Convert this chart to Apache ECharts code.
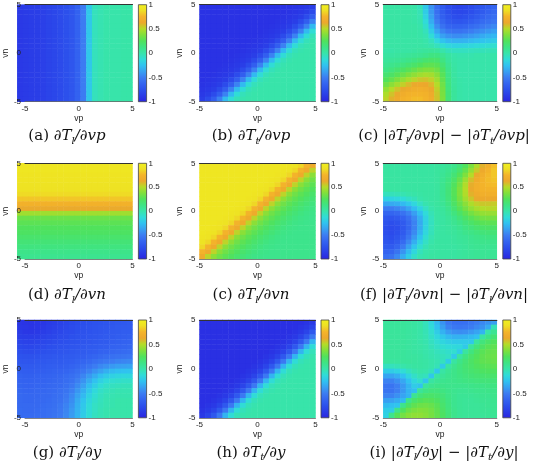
<!DOCTYPE html>
<html><head><meta charset="utf-8">
<script src="https://cdn.jsdelivr.net/npm/echarts@6/dist/echarts.min.js"></script>
<style>html,body{margin:0;padding:0;background:#fff}#c{width:535px;height:463px}</style>
</head><body><div id="c"></div>
<script>
// cell centres (vp horizontally, vn vertically)
const vpCats = [-4.75,-4.25,-3.75,-3.25,-2.75,-2.25,-1.75,-1.25,-0.75,-0.25,0.25,0.75,1.25,1.75,2.25,2.75,3.25,3.75,4.25,4.75];
const vnCats = [-4.75,-4.25,-3.75,-3.25,-2.75,-2.25,-1.75,-1.25,-0.75,-0.25,0.25,0.75,1.25,1.75,2.25,2.75,3.25,3.75,4.25,4.75];
const axisTicks = [-5, 0, 5];
const barTicks = [-1, -0.5, 0, 0.5, 1];
const CMAP = ['#2a24e0','#2a3ae6','#2c50ec','#3464f0','#3c7cf2','#38a0f2','#30c2f0','#30dcd8','#38e4aa','#3ee484','#50e25c','#80e03c','#b4dc28','#eca82c','#f4b42a','#eee024','#f0f01e'];

// values in hundredths; rows listed from vn = 4.75 (top) down to vn = -4.75 (bottom)
const dTl_dvp = [
[-88,-87,-86,-85,-84,-82,-80,-78,-75,-71,-64,-50,-22,-5,-2,0,0,0,1,1],
[-88,-87,-86,-85,-84,-82,-80,-78,-75,-71,-64,-50,-22,-5,-2,0,0,0,1,1],
[-88,-87,-86,-85,-84,-82,-80,-78,-75,-71,-64,-50,-22,-5,-2,0,0,0,1,1],
[-88,-87,-86,-85,-84,-82,-80,-78,-75,-71,-64,-50,-22,-5,-2,0,0,0,1,1],
[-88,-87,-86,-85,-84,-82,-80,-78,-75,-71,-64,-50,-22,-5,-2,0,0,0,1,1],
[-88,-87,-86,-85,-84,-82,-80,-78,-75,-71,-64,-50,-22,-5,-2,0,0,0,1,1],
[-88,-87,-86,-85,-84,-82,-80,-78,-75,-71,-64,-50,-22,-5,-2,0,0,0,1,1],
[-88,-87,-86,-85,-84,-82,-80,-78,-75,-71,-64,-50,-22,-5,-2,0,0,0,1,1],
[-88,-87,-86,-85,-84,-82,-80,-78,-75,-71,-64,-50,-22,-5,-2,0,0,0,1,1],
[-88,-87,-86,-85,-84,-82,-80,-78,-75,-71,-64,-50,-22,-5,-2,0,0,0,1,1],
[-88,-87,-86,-85,-84,-82,-80,-78,-75,-71,-64,-50,-22,-5,-2,0,0,0,1,1],
[-88,-87,-86,-85,-84,-82,-80,-78,-75,-71,-64,-50,-22,-5,-2,0,0,0,1,1],
[-88,-87,-86,-85,-84,-82,-80,-78,-75,-71,-64,-50,-22,-5,-2,0,0,0,1,1],
[-88,-87,-86,-85,-84,-82,-80,-78,-75,-71,-64,-50,-22,-5,-2,0,0,0,1,1],
[-88,-87,-86,-85,-84,-82,-80,-78,-75,-71,-64,-50,-22,-5,-2,0,0,0,1,1],
[-88,-87,-86,-85,-84,-82,-80,-78,-75,-71,-64,-50,-22,-5,-2,0,0,0,1,1],
[-88,-87,-86,-85,-84,-82,-80,-78,-75,-71,-64,-50,-22,-5,-2,0,0,0,1,1],
[-88,-87,-86,-85,-84,-82,-80,-78,-75,-71,-64,-50,-22,-5,-2,0,0,0,1,1],
[-88,-87,-86,-85,-84,-82,-80,-78,-75,-71,-64,-50,-22,-5,-2,0,0,0,1,1],
[-88,-87,-86,-85,-84,-82,-80,-78,-75,-71,-64,-50,-22,-5,-2,0,0,0,1,1]];

const dTt_dvp = [
[-92,-92,-92,-92,-92,-92,-92,-92,-92,-92,-92,-92,-92,-92,-92,-92,-91,-90,-88,-85],
[-92,-92,-92,-92,-92,-92,-92,-92,-92,-92,-92,-92,-92,-92,-92,-91,-90,-88,-85,-78],
[-92,-92,-92,-92,-92,-92,-92,-92,-92,-92,-92,-92,-92,-92,-91,-90,-88,-85,-78,-66],
[-92,-92,-92,-92,-92,-92,-92,-92,-92,-92,-92,-92,-92,-91,-90,-88,-85,-78,-66,-48],
[-92,-92,-92,-92,-92,-92,-92,-92,-92,-92,-92,-92,-91,-90,-88,-85,-78,-66,-48,-28],
[-92,-92,-92,-92,-92,-92,-92,-92,-92,-92,-92,-91,-90,-88,-85,-78,-66,-48,-28,-12],
[-92,-92,-92,-92,-92,-92,-92,-92,-92,-92,-91,-90,-88,-85,-78,-66,-48,-28,-12,-4],
[-92,-92,-92,-92,-92,-92,-92,-92,-92,-91,-90,-88,-85,-78,-66,-48,-28,-12,-4,-1],
[-92,-92,-92,-92,-92,-92,-92,-92,-91,-90,-88,-85,-78,-66,-48,-28,-12,-4,-1,0],
[-92,-92,-92,-92,-92,-92,-92,-91,-90,-88,-85,-78,-66,-48,-28,-12,-4,-1,0,0],
[-92,-92,-92,-92,-92,-92,-91,-90,-88,-85,-78,-66,-48,-28,-12,-4,-1,0,0,0],
[-92,-92,-92,-92,-92,-91,-90,-88,-85,-78,-66,-48,-28,-12,-4,-1,0,0,0,0],
[-92,-92,-92,-92,-91,-90,-88,-85,-78,-66,-48,-28,-12,-4,-1,0,0,0,0,0],
[-92,-92,-92,-91,-90,-88,-85,-78,-66,-48,-28,-12,-4,-1,0,0,0,0,0,0],
[-92,-92,-91,-90,-88,-85,-78,-66,-48,-28,-12,-4,-1,0,0,0,0,0,0,0],
[-92,-91,-90,-88,-85,-78,-66,-48,-28,-12,-4,-1,0,0,0,0,0,0,0,0],
[-91,-90,-88,-85,-78,-66,-48,-28,-12,-4,-1,0,0,0,0,0,0,0,0,0],
[-90,-88,-85,-78,-66,-48,-28,-12,-4,-1,0,0,0,0,0,0,0,0,0,0],
[-88,-85,-78,-66,-48,-28,-12,-4,-1,0,0,0,0,0,0,0,0,0,0,0],
[-85,-78,-66,-48,-28,-12,-4,-1,0,0,0,0,0,0,0,0,0,0,0,0]];

const diff_vp = [
[2,2,2,2,2,1,-4,-22,-42,-58,-68,-76,-80,-82,-80,-78,-74,-70,-66,-62],
[2,2,2,2,2,1,-3,-20,-40,-57,-67,-75,-79,-80,-79,-76,-72,-68,-64,-60],
[2,2,2,2,2,1,-2,-17,-37,-54,-65,-72,-76,-77,-75,-72,-68,-64,-60,-57],
[2,2,2,2,2,1,-1,-13,-33,-50,-61,-68,-71,-72,-70,-67,-63,-59,-56,-53],
[2,2,2,2,2,2,0,-9,-27,-44,-55,-62,-64,-64,-62,-59,-56,-52,-49,-46],
[2,2,2,2,2,2,1,-5,-20,-36,-47,-53,-55,-55,-53,-50,-47,-44,-41,-38],
[2,2,2,2,2,2,1,-2,-12,-26,-37,-42,-44,-44,-42,-40,-37,-34,-31,-29],
[2,2,2,2,2,2,2,0,-5,-14,-24,-29,-31,-31,-30,-28,-26,-24,-22,-20],
[2,2,2,2,2,2,2,1,-1,-5,-11,-15,-17,-17,-16,-15,-13,-12,-11,-10],
[1,1,2,2,2,3,4,5,6,5,0,-4,-6,-6,-6,-5,-4,-4,-3,-3],
[3,3,4,5,6,7,8,10,13,13,8,3,0,-1,-1,-1,0,0,0,0],
[5,6,7,9,11,13,16,19,21,20,13,5,1,0,0,0,0,0,0,0],
[8,10,12,15,18,21,25,28,29,27,18,8,2,0,0,0,0,0,0,0],
[12,15,19,23,27,31,35,37,37,33,23,10,3,0,0,0,0,0,0,0],
[18,22,27,32,37,41,45,47,46,40,27,12,3,0,0,0,0,0,0,0],
[25,30,36,42,47,52,55,56,53,45,30,13,4,1,0,0,0,0,0,0],
[33,40,46,53,58,62,64,63,59,50,33,14,4,1,0,0,0,0,0,0],
[42,50,56,62,66,69,70,68,63,53,35,15,5,1,0,0,0,0,0,0],
[48,56,62,68,72,74,74,72,66,55,36,16,5,1,0,0,0,0,0,0],
[52,60,66,72,75,77,77,74,68,56,37,16,5,1,0,0,0,0,0,0]];

const dTl_dvn = [
[92,92,92,92,92,92,92,92,92,92,92,92,92,92,92,92,92,92,92,92],
[92,92,92,92,92,92,92,92,92,92,92,92,92,92,92,92,92,92,92,92],
[91,91,91,91,91,91,91,91,91,91,91,91,91,91,91,91,91,91,91,91],
[91,91,91,91,91,91,91,91,91,91,91,91,91,91,91,91,91,91,91,91],
[90,90,90,90,90,90,90,90,90,90,90,90,90,90,90,90,90,90,90,90],
[89,89,89,89,89,89,89,89,89,89,89,89,89,89,89,89,89,89,89,89],
[86,86,86,86,86,86,86,86,86,86,86,86,86,86,86,86,86,86,86,86],
[80,80,80,80,80,80,80,80,80,80,80,80,80,80,80,80,80,80,80,80],
[72,72,72,72,72,72,72,72,72,72,72,72,72,72,72,72,72,72,72,72],
[62,62,62,62,62,62,62,62,62,62,62,62,62,62,62,62,62,62,62,62],
[45,45,45,45,45,45,45,45,45,45,45,45,45,45,45,45,45,45,45,45],
[32,32,32,32,32,32,32,32,32,32,32,32,32,32,32,32,32,32,32,32],
[28,28,28,28,28,28,28,28,28,28,28,28,28,28,28,28,28,28,28,28],
[25,25,25,25,25,25,25,25,25,25,25,25,25,25,25,25,25,25,25,25],
[23,23,23,23,23,23,23,23,23,23,23,23,23,23,23,23,23,23,23,23],
[20,20,20,20,20,20,20,20,20,20,20,20,20,20,20,20,20,20,20,20],
[17,17,17,17,17,17,17,17,17,17,17,17,17,17,17,17,17,17,17,17],
[14,14,14,14,14,14,14,14,14,14,14,14,14,14,14,14,14,14,14,14],
[11,11,11,11,11,11,11,11,11,11,11,11,11,11,11,11,11,11,11,11],
[9,9,9,9,9,9,9,9,9,9,9,9,9,9,9,9,9,9,9,9]];

const dTt_dvn = [
[92,92,92,92,92,92,92,92,92,92,92,92,92,92,92,91,90,85,74,66],
[92,92,92,92,92,92,92,92,92,92,92,92,92,92,91,90,85,74,66,52],
[92,92,92,92,92,92,92,92,92,92,92,92,92,91,90,85,74,66,52,40],
[92,92,92,92,92,92,92,92,92,92,92,92,91,90,85,74,66,52,40,33],
[92,92,92,92,92,92,92,92,92,92,92,91,90,85,74,66,52,40,33,28],
[92,92,92,92,92,92,92,92,92,92,91,90,85,74,66,52,40,33,28,24],
[92,92,92,92,92,92,92,92,92,91,90,85,74,66,52,40,33,28,24,20],
[92,92,92,92,92,92,92,92,91,90,85,74,66,52,40,33,28,24,20,17],
[92,92,92,92,92,92,92,91,90,85,74,66,52,40,33,28,24,20,17,14],
[92,92,92,92,92,92,91,90,85,74,66,52,40,33,28,24,20,17,14,12],
[92,92,92,92,92,91,90,85,74,66,52,40,33,28,24,20,17,14,12,11],
[92,92,92,92,91,90,85,74,66,52,40,33,28,24,20,17,14,12,11,10],
[92,92,92,91,90,85,74,66,52,40,33,28,24,20,17,14,12,11,10,10],
[92,92,91,90,85,74,66,52,40,33,28,24,20,17,14,12,11,10,10,10],
[92,91,90,85,74,66,52,40,33,28,24,20,17,14,12,11,10,10,10,10],
[91,90,85,74,66,52,40,33,28,24,20,17,14,12,11,10,10,10,10,10],
[90,85,74,66,52,40,33,28,24,20,17,14,12,11,10,10,10,10,10,10],
[85,74,66,52,40,33,28,24,20,17,14,12,11,10,10,10,10,10,10,10],
[74,66,52,40,33,28,24,20,17,14,12,11,10,10,10,10,10,10,10,10],
[66,52,40,33,28,24,20,17,14,12,11,10,10,10,10,10,10,10,10,10]];

const diff_vn = [
[3,3,3,3,3,3,3,3,3,4,5,7,10,16,25,36,48,60,70,78],
[3,3,3,3,3,3,3,3,3,4,6,9,13,20,30,42,54,65,74,80],
[3,3,3,3,3,3,3,3,3,4,7,11,17,26,37,50,62,70,76,80],
[3,3,3,3,3,3,3,3,3,4,8,13,21,31,44,57,67,73,77,79],
[3,3,3,3,3,3,3,3,3,4,9,15,24,35,49,61,70,74,76,77],
[3,3,3,3,3,3,3,3,3,4,9,16,26,37,50,62,70,73,74,74],
[-5,-4,-3,-2,0,1,2,3,3,4,9,16,26,37,49,60,67,70,70,70],
[-18,-17,-15,-12,-8,-4,0,2,3,4,8,15,25,35,46,55,62,64,64,63],
[-35,-34,-32,-28,-22,-15,-7,-1,2,4,7,13,22,31,40,48,53,55,55,54],
[-50,-50,-47,-43,-36,-27,-17,-7,0,3,5,10,18,27,35,42,47,50,51,51],
[-62,-62,-60,-55,-48,-38,-26,-13,-3,2,4,8,14,21,28,34,39,42,43,43],
[-70,-71,-69,-64,-56,-45,-32,-17,-5,2,3,6,10,16,22,27,31,34,35,35],
[-74,-76,-74,-69,-60,-48,-34,-18,-6,1,3,5,8,12,17,21,25,27,28,28],
[-76,-78,-76,-70,-61,-48,-33,-17,-5,1,3,4,6,9,13,16,19,21,22,22],
[-76,-78,-75,-69,-58,-45,-30,-15,-4,2,3,4,5,7,10,12,14,16,17,17],
[-74,-76,-72,-65,-53,-40,-25,-11,-2,2,3,3,4,6,7,9,11,12,13,13],
[-72,-73,-68,-59,-46,-32,-18,-7,0,3,3,3,4,5,6,8,9,10,10,10],
[-68,-68,-62,-51,-37,-23,-11,-3,2,3,3,3,3,4,5,7,8,8,8,8],
[-64,-62,-54,-42,-28,-15,-5,0,2,3,3,3,3,4,5,6,7,7,7,7],
[-58,-55,-46,-33,-20,-8,-2,1,3,3,3,3,3,4,5,6,7,7,7,7]];

const dTl_dy = [
[-90,-91,-91,-90,-89,-87,-85,-83,-81,-79,-77,-76,-75,-74,-73,-72,-71,-70,-70,-69],
[-89,-90,-91,-90,-88,-86,-84,-82,-80,-78,-76,-75,-74,-73,-72,-71,-70,-69,-69,-68],
[-87,-89,-89,-88,-86,-84,-82,-80,-78,-77,-75,-74,-73,-72,-71,-70,-69,-68,-67,-67],
[-85,-86,-86,-85,-83,-81,-80,-78,-77,-75,-74,-73,-72,-71,-70,-69,-68,-67,-66,-65],
[-82,-83,-83,-82,-80,-79,-77,-76,-75,-74,-73,-72,-71,-70,-69,-68,-66,-65,-64,-63],
[-79,-80,-80,-79,-78,-76,-75,-74,-73,-72,-71,-70,-69,-68,-67,-66,-64,-63,-62,-61],
[-76,-77,-77,-76,-75,-74,-73,-72,-71,-70,-69,-68,-67,-66,-64,-63,-61,-60,-59,-58],
[-73,-74,-74,-73,-72,-71,-70,-70,-69,-68,-67,-66,-64,-62,-60,-58,-56,-55,-54,-53],
[-71,-71,-71,-70,-70,-69,-68,-68,-67,-66,-64,-62,-60,-57,-54,-52,-50,-48,-47,-46],
[-68,-69,-69,-68,-68,-67,-66,-66,-65,-63,-61,-58,-54,-50,-46,-43,-40,-38,-37,-36],
[-66,-67,-67,-66,-66,-65,-64,-63,-62,-60,-57,-53,-48,-42,-37,-32,-28,-26,-25,-24],
[-64,-65,-65,-64,-64,-63,-62,-61,-59,-57,-53,-47,-40,-33,-26,-21,-18,-16,-15,-15],
[-63,-64,-64,-63,-63,-62,-61,-60,-58,-55,-49,-42,-33,-25,-18,-13,-10,-9,-8,-8],
[-62,-63,-63,-62,-62,-61,-60,-59,-56,-52,-45,-37,-27,-19,-12,-8,-6,-5,-4,-4],
[-61,-62,-62,-61,-61,-60,-59,-57,-54,-49,-41,-32,-22,-14,-8,-5,-3,-2,-2,-2],
[-60,-61,-61,-61,-60,-60,-58,-56,-52,-46,-37,-28,-18,-11,-6,-3,-2,-1,-1,-1],
[-60,-61,-61,-60,-60,-59,-57,-55,-50,-44,-34,-24,-15,-9,-5,-2,-1,0,0,0],
[-60,-60,-60,-60,-59,-58,-56,-53,-48,-42,-32,-22,-13,-7,-4,-2,-1,0,0,0],
[-59,-60,-60,-59,-58,-57,-55,-52,-47,-40,-31,-21,-12,-7,-3,-1,0,0,0,0],
[-59,-59,-59,-58,-58,-56,-54,-51,-46,-39,-30,-20,-12,-6,-3,-1,0,0,0,0]];

const dTt_dy = [
[-93,-93,-93,-93,-93,-93,-93,-93,-93,-93,-93,-93,-93,-93,-93,-93,-93,-93,-91,-88],
[-93,-93,-93,-93,-93,-93,-93,-93,-93,-93,-93,-93,-93,-93,-93,-93,-93,-91,-88,-82],
[-93,-93,-93,-93,-93,-93,-93,-93,-93,-93,-93,-93,-93,-93,-93,-93,-91,-88,-82,-70],
[-93,-93,-93,-93,-93,-93,-93,-93,-93,-93,-93,-93,-93,-93,-93,-91,-88,-82,-70,-52],
[-93,-93,-93,-93,-93,-93,-93,-93,-93,-93,-93,-93,-93,-93,-91,-88,-82,-70,-52,-30],
[-93,-93,-93,-93,-93,-93,-93,-93,-93,-93,-93,-93,-93,-91,-88,-82,-70,-52,-30,-12],
[-93,-93,-93,-93,-93,-93,-93,-93,-93,-93,-93,-93,-91,-88,-82,-70,-52,-30,-12,-4],
[-93,-93,-93,-93,-93,-93,-93,-93,-93,-93,-93,-91,-88,-82,-70,-52,-30,-12,-4,-1],
[-93,-93,-93,-93,-93,-93,-93,-93,-93,-93,-91,-88,-82,-70,-52,-30,-12,-4,-1,0],
[-93,-93,-93,-93,-93,-93,-93,-93,-93,-91,-88,-82,-70,-52,-30,-12,-4,-1,0,0],
[-93,-93,-93,-93,-93,-93,-93,-93,-91,-88,-82,-70,-52,-30,-12,-4,-1,0,0,0],
[-93,-93,-93,-93,-93,-93,-93,-91,-88,-82,-70,-52,-30,-12,-4,-1,0,0,0,0],
[-93,-93,-93,-93,-93,-93,-91,-88,-82,-70,-52,-30,-12,-4,-1,0,0,0,0,0],
[-93,-93,-93,-93,-93,-91,-88,-82,-70,-52,-30,-12,-4,-1,0,0,0,0,0,0],
[-93,-93,-93,-93,-91,-88,-82,-70,-52,-30,-12,-4,-1,0,0,0,0,0,0,0],
[-93,-93,-93,-91,-88,-82,-70,-52,-30,-12,-4,-1,0,0,0,0,0,0,0,0],
[-93,-93,-91,-88,-82,-70,-52,-30,-12,-4,-1,0,0,0,0,0,0,0,0,0],
[-93,-91,-88,-82,-70,-52,-30,-12,-4,-1,0,0,0,0,0,0,0,0,0,0],
[-91,-88,-82,-70,-52,-30,-12,-4,-1,0,0,0,0,0,0,0,0,0,0,0],
[-88,-82,-70,-52,-30,-12,-4,-1,0,0,0,0,0,0,0,0,0,0,0,0]];

const diff_y = [
[5,5,5,5,4,3,1,-5,-15,-28,-42,-52,-56,-57,-56,-53,-50,-46,-42,-38],
[5,5,5,5,4,3,1,-4,-13,-25,-38,-48,-52,-53,-52,-50,-46,-42,-34,-4],
[5,5,5,5,4,3,1,-3,-10,-20,-31,-39,-43,-44,-43,-40,-36,-30,0,8],
[5,5,5,5,4,3,1,-2,-8,-15,-22,-28,-31,-31,-30,-28,-25,2,12,17],
[5,5,5,5,4,3,1,-1,-6,-11,-16,-19,-21,-21,-21,-22,4,15,21,25],
[5,5,5,5,4,3,2,0,-4,-8,-11,-13,-14,-15,-21,4,15,22,27,29],
[5,5,5,5,4,3,2,0,-2,-5,-7,-9,-10,-20,4,14,22,27,30,31],
[5,5,5,5,4,4,3,1,-1,-3,-5,-7,-20,3,13,20,25,29,31,32],
[4,4,4,5,5,4,3,2,0,-2,-5,-20,3,11,17,22,26,29,30,31],
[-6,-5,-3,0,2,3,3,2,0,-3,-20,2,9,14,18,21,24,26,27,28],
[-20,-20,-17,-12,-6,-1,1,0,-4,-22,2,7,11,14,17,19,21,23,24,24],
[-36,-36,-32,-25,-16,-8,-3,-5,-22,2,6,9,11,13,15,17,18,19,20,20],
[-48,-48,-43,-35,-25,-15,-9,-23,3,7,9,10,11,12,13,14,15,16,16,16],
[-54,-54,-49,-40,-30,-20,-24,4,9,11,11,10,10,10,10,11,12,12,13,13],
[-54,-54,-49,-40,-30,-26,6,12,15,15,13,11,9,8,8,9,10,10,11,11],
[-48,-48,-43,-36,-30,8,16,20,21,19,16,12,9,7,7,7,8,9,9,10],
[-38,-37,-33,-28,10,20,25,27,26,23,18,13,9,7,6,6,7,8,8,9],
[-28,-26,-24,10,22,29,32,33,31,27,20,14,9,7,6,6,6,7,8,8],
[-20,-20,10,24,32,36,38,37,34,29,22,15,10,7,6,6,6,7,7,8],
[-18,10,26,34,39,41,41,39,35,30,23,16,10,7,6,6,6,6,7,7]];

const panels = [dTl_dvp, dTt_dvp, diff_vp, dTl_dvn, dTt_dvn, diff_vn, dTl_dy, dTt_dy, diff_y];
const captions = [
 '{n|(a) }{i|∂T}{s|l}{i|/∂vp}',
 '{n|(b) }{i|∂T}{s|t}{i|/∂vp}',
 '{n|(c) |}{i|∂T}{s|l}{i|/∂vp}{n|| − |}{i|∂T}{s|t}{i|/∂vp}{n||}',
 '{n|(d) }{i|∂T}{s|l}{i|/∂vn}',
 '{n|(c) }{i|∂T}{s|l}{i|/∂vn}',
 '{n|(f) |}{i|∂T}{s|l}{i|/∂vn}{n|| − |}{i|∂T}{s|l}{i|/∂vn}{n||}',
 '{n|(g) }{i|∂T}{s|l}{i|/∂y}',
 '{n|(h) }{i|∂T}{s|t}{i|/∂y}',
 '{n|(i) |}{i|∂T}{s|l}{i|/∂y}{n|| − |}{i|∂T}{s|t}{i|/∂y}{n||}'
];

// layout
const COLS = [{l:17.3,w:115.2,cb:138.4,cbw:8.2,cx:67},{l:199.5,w:116,cb:321,cbw:8,cx:251},{l:383.3,w:113.5,cb:502.8,cbw:8,cx:444}];
const ROWS = [{t:4.7,h:97,cy:136.5},{t:163.3,h:95.7,cy:295.5},{t:320,h:97.8,cy:453}];
const SANS = 'Liberation Sans';
const SERIF = 'DejaVu Serif';

const chart = echarts.init(document.getElementById('c'), null, {renderer:'canvas'});
const grid=[], xAxis=[], yAxis=[], series=[], graphic=[];
const N = panels.length;
const tickFmt = v => String(v);

panels.forEach((p, k) => {
  const C = COLS[k % 3], R = ROWS[Math.floor(k / 3)];
  grid[k] = {left:C.l, top:R.t, width:C.w, height:R.h, containLabel:false};
  grid[N + k] = {left:C.l, top:R.t, width:C.w, height:R.h, containLabel:false};
  grid[2*N + k] = {left:C.cb, top:R.t, width:C.cbw, height:R.h, containLabel:false};

  xAxis[k] = {type:'category', gridIndex:k, data:vpCats, show:false};
  yAxis[k] = {type:'category', gridIndex:k, data:vnCats, show:false};

  xAxis[N + k] = {type:'value', gridIndex:N + k, min:axisTicks[0], max:axisTicks[2], interval:axisTicks[2]-axisTicks[1], position:'bottom', z:5,
    name:'vp', nameLocation:'middle', nameGap:12, nameTextStyle:{fontFamily:SANS, fontSize:8.5, color:'#222'},
    axisLine:{show:true, onZero:false, lineStyle:{color:'#666', width:0.8}}, axisTick:{show:false}, splitLine:{show:false},
    axisLabel:{fontFamily:SANS, fontSize:8, color:'#222', margin:3, formatter:tickFmt}};
  xAxis[2*N + k] = {type:'value', gridIndex:N + k, min:-5, max:5, position:'top', z:5,
    axisLine:{show:true, onZero:false, lineStyle:{color:'#333', width:1.2}}, axisTick:{show:false}, axisLabel:{show:false}, splitLine:{show:false}};
  yAxis[N + k] = {type:'value', gridIndex:N + k, min:axisTicks[0], max:axisTicks[2], interval:axisTicks[2]-axisTicks[1], position:'left', z:5,
    name:'vn', nameLocation:'middle', nameGap:10.5, nameTextStyle:{fontFamily:SANS, fontSize:8.5, color:'#222'},
    axisLine:{show:false, onZero:false}, axisTick:{show:false}, splitLine:{show:false},
    axisLabel:{fontFamily:SANS, fontSize:8, color:'#222', margin:4, formatter:tickFmt}};

  xAxis[3*N + k] = {type:'value', gridIndex:2*N + k, min:0, max:1, show:false};
  yAxis[2*N + k] = {type:'value', gridIndex:2*N + k, min:barTicks[0], max:barTicks[4], interval:barTicks[1]-barTicks[0], position:'right', z:5,
    axisLine:{show:false, onZero:false}, axisTick:{show:false}, splitLine:{show:false},
    axisLabel:{fontFamily:SANS, fontSize:8, color:'#222', margin:2, formatter:tickFmt}};

  const data = [];
  p.forEach((row, r) => row.forEach((v, c) => data.push([c, p.length - 1 - r, v / 100])));
  series.push({type:'heatmap', xAxisIndex:k, yAxisIndex:k, data, silent:true, progressive:0,
    emphasis:{disabled:true}, itemStyle:{borderWidth:0}});

  const stops = CMAP.map((col, i) => ({offset:i/(CMAP.length-1), color:col}));
  graphic.push({type:'rect', z:10, shape:{x:C.cb, y:R.t, width:C.cbw, height:R.h},
    style:{fill:new echarts.graphic.LinearGradient(0,1,0,0,stops), stroke:'#444', lineWidth:0.8}});
  graphic.push({type:'text', z:10, x:C.cx, y:R.cy, style:{text:captions[k], align:'center', verticalAlign:'middle', fill:'#111',
    rich:{
      n:{fontFamily:SERIF, fontSize:15, fontStyle:'normal', lineHeight:19, fill:'#111'},
      i:{fontFamily:SERIF, fontSize:15, fontStyle:'italic', lineHeight:19, fill:'#111'},
      s:{fontFamily:SERIF, fontSize:10, fontStyle:'italic', lineHeight:19, verticalAlign:'bottom', fill:'#111'}
    }}});
});

chart.setOption({
  animation:false,
  backgroundColor:'#fff',
  grid, xAxis, yAxis, series, graphic,
  visualMap:{type:'continuous', show:false, min:-1, max:1, seriesIndex:series.map((s,i)=>i), inRange:{color:CMAP}}
});
</script></body></html>
